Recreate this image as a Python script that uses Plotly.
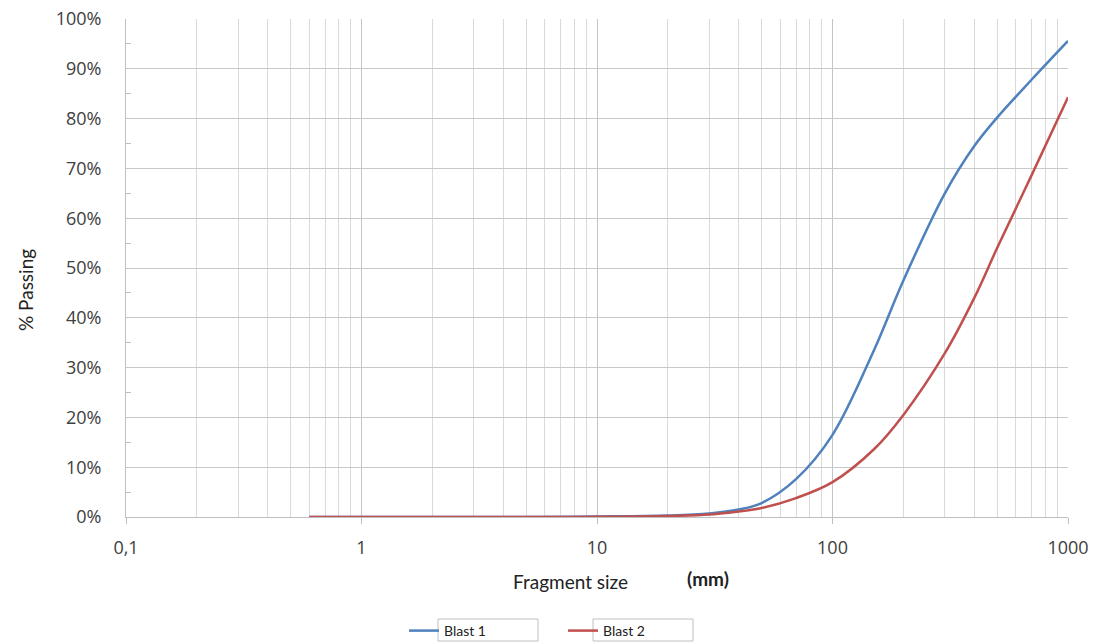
import plotly.graph_objects as go

# Sieve sizes (mm) and cumulative percent passing for each blast
sizes = [0.6, 1, 5, 10, 20, 30, 40, 50, 70, 100, 150, 200, 300, 400, 500, 700, 1000]
blast1 = [0, 0, 0, 0.1, 0.3, 0.7, 1.5, 2.8, 7.6, 16.5, 33.5, 47.5, 65, 74.5, 80.2, 87.8, 95.6]
blast2 = [0, 0, 0, 0.05, 0.2, 0.5, 1.1, 1.8, 3.8, 7.0, 13.6, 20.5, 32.9, 44, 54, 68.6, 84.3]

series_names = ["Blast 1", "Blast 2"]
series_colors = ["#4f81bd", "#c0504d"]

x_major = [0.1, 1, 10, 100, 1000]
x_major_text = ["0,1", "1", "10", "100", "1000"]
x_minor = [m * d for d in (0.1, 1, 10, 100) for m in range(2, 10)]

fig = go.Figure()
for name, vals, col in zip(series_names, [blast1, blast2], series_colors):
    fig.add_trace(go.Scatter(
        x=sizes, y=vals, name=name, mode="lines",
        line=dict(color=col, width=2.5, shape="spline", smoothing=1.0),
    ))

tick_font = dict(family="Open Sans, sans-serif", size=18, color="#404040")

fig.update_xaxes(
    type="log", range=[-1, 3],
    tickvals=x_major, ticktext=x_major_text,
    ticks="outside", ticklen=6, tickcolor="#bfbfbf", tickwidth=1,
    showgrid=True, gridcolor="#c4c4c4", gridwidth=1.3,
    minor=dict(tickvals=x_minor, showgrid=True, gridcolor="#dadada", gridwidth=1, ticks=""),
    showline=True, linecolor="#bfbfbf", linewidth=1,
    tickfont=tick_font, ticklabelstandoff=8,
    zeroline=False, mirror=False,
)
fig.update_yaxes(
    range=[0, 100], dtick=10, ticksuffix="%",
    ticks="inside", ticklen=0,
    showgrid=True, gridcolor="#c8c8c8", gridwidth=1,
    minor=dict(dtick=5, ticks="inside", ticklen=5, tickcolor="#bfbfbf", showgrid=False),
    showline=True, linecolor="#bfbfbf", linewidth=1,
    tickfont=tick_font, ticklabelstandoff=20,
    zeroline=False,
)

W, H = 1099, 644
L, R, T, B = 126, 31, 19, 127
pw, ph = W - L - R, H - T - B

def px_x(p):
    return (p - L) / pw

def px_y(p):
    return (H - B - p) / ph

title_font = dict(family="Lato, Open Sans, sans-serif", size=19, color="#222222")
fig.add_annotation(text="Fragment size", x=px_x(570), y=px_y(581), xref="paper", yref="paper",
                   showarrow=False, font=title_font, xanchor="center", yanchor="middle")
fig.add_annotation(text="<b>(mm)</b>", x=px_x(708), y=px_y(578), xref="paper", yref="paper",
                   showarrow=False, font=dict(family="Lato, Open Sans, sans-serif", size=19, color="#222222"),
                   xanchor="center", yanchor="middle")
fig.add_annotation(text="% Passing", x=px_x(25), y=px_y(290), xref="paper", yref="paper",
                   showarrow=False, font=title_font, textangle=-90,
                   xanchor="center", yanchor="middle")

# Boxes around the legend labels
for x0, x1 in [(438, 538), (593, 693)]:
    fig.add_shape(type="rect", xref="paper", yref="paper",
                  x0=px_x(x0), x1=px_x(x1), y0=px_y(641), y1=px_y(619),
                  line=dict(color="#c0c0c0", width=1), fillcolor="rgba(0,0,0,0)", layer="above")

fig.update_layout(
    width=W, height=H,
    margin=dict(l=L, r=R, t=T, b=B, pad=0, autoexpand=False),
    paper_bgcolor="white", plot_bgcolor="white",
    showlegend=True,
    legend=dict(orientation="h", x=px_x(404), y=px_y(631), xanchor="left", yanchor="middle",
                font=dict(family="Lato, Open Sans, sans-serif", size=14, color="#222222"),
                entrywidth=114, entrywidthmode="pixels", itemwidth=30,
                bgcolor="rgba(0,0,0,0)", traceorder="normal"),
)

fig.write_html("out.html")
